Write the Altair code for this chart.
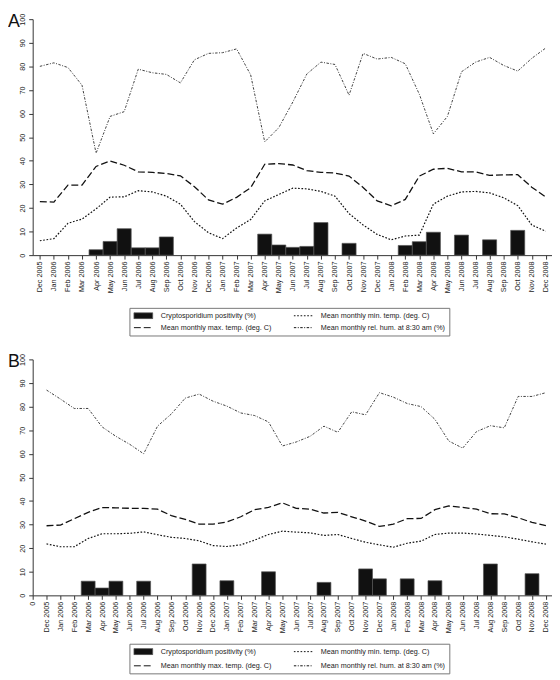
import altair as alt
import pandas as pd

months = ["Dec 2005", "Jan 2006", "Feb 2006", "Mar 2006", "Apr 2006", "May 2006",
          "Jun 2006", "Jul 2006", "Aug 2006", "Sep 2006", "Oct 2006", "Nov 2006",
          "Dec 2006", "Jan 2007", "Feb 2007", "Mar 2007", "Apr 2007", "May 2007",
          "Jun 2007", "Jul 2007", "Aug 2007", "Sep 2007", "Oct 2007", "Nov 2007",
          "Dec 2007", "Jan 2008", "Feb 2008", "Mar 2008", "Apr 2008", "May 2008",
          "Jun 2008", "Jul 2008", "Aug 2008", "Sep 2008", "Oct 2008", "Nov 2008",
          "Dec 2008"]

# Panel A
crypto_A = [None, None, None, None, 2.3, 5.8, 11.2, 3.1, 3.1, 7.7, None, None,
            None, None, None, None, 8.9, 4.3, 3.3, 3.7, 13.8, None, 5.0, None,
            None, None, 4.1, 5.7, 9.7, None, 8.5, None, 6.5, None, 10.5, None, None]
tmin_A = [6.1, 7.0, 13.5, 15.3, 19.6, 24.6, 24.7, 27.3, 26.8, 25.0, 21.6, 14.2,
          9.5, 7.0, 11.5, 15.1, 23.0, 25.7, 28.4, 28.1, 27.0, 25.0, 17.6, 12.8,
          8.8, 6.5, 8.1, 8.5, 21.6, 25.0, 26.8, 27.0, 26.4, 24.3, 21.0, 12.8, 10.1]
tmax_A = [22.7, 22.5, 29.7, 29.7, 37.6, 39.9, 38.1, 35.3, 35.1, 34.6, 33.6, 29.0,
          23.4, 21.6, 24.5, 28.6, 38.5, 38.8, 38.2, 35.8, 35.1, 34.8, 33.5, 28.7,
          23.0, 20.9, 23.6, 33.5, 36.4, 36.8, 35.3, 35.3, 33.8, 34.0, 34.1, 28.8, 24.6]
hum_A = [80.0, 81.5, 79.5, 72.0, 43.2, 58.8, 60.8, 78.8, 77.3, 76.6, 73.0, 82.8,
         85.5, 85.8, 87.4, 76.4, 48.0, 54.0, 64.9, 76.8, 81.8, 80.8, 67.8, 85.5,
         83.1, 83.8, 81.1, 68.2, 51.4, 58.8, 77.7, 81.8, 83.8, 80.4, 78.0, 83.4, 87.8]

# Panel B
crypto_B = [None, None, None, 6.0, 3.1, 6.0, None, 6.0, None, None, None, 13.3,
            None, 6.2, None, None, 10.0, None, None, None, 5.5, None, None, 11.2,
            7.0, None, 7.0, None, 6.2, None, None, None, 13.3, None, None, 9.2, None]
tmin_B = [21.8, 20.6, 20.6, 24.1, 26.1, 26.1, 26.3, 26.9, 25.7, 24.6, 24.1, 23.1,
          21.1, 20.7, 21.4, 23.4, 25.8, 27.2, 26.8, 26.5, 25.4, 25.8, 24.1, 22.5,
          21.4, 20.4, 22.1, 23.0, 25.8, 26.4, 26.4, 26.0, 25.4, 24.8, 23.8, 22.7, 21.7]
tmax_B = [29.5, 29.8, 32.5, 35.2, 37.2, 37.1, 36.9, 36.9, 36.5, 33.8, 32.2, 30.2,
          30.2, 31.1, 33.3, 36.3, 37.3, 39.2, 36.9, 36.5, 34.9, 35.2, 33.3, 31.5,
          29.2, 30.2, 32.5, 32.6, 36.3, 37.9, 37.3, 36.5, 34.6, 34.5, 32.9, 30.9, 29.6]
hum_B = [87.0, 83.2, 79.2, 79.2, 71.4, 67.4, 64.0, 60.0, 71.7, 76.9, 83.6, 85.3,
         82.3, 80.2, 77.3, 76.2, 73.5, 63.3, 65.0, 67.4, 71.7, 69.1, 77.8, 76.5,
         85.9, 84.0, 81.3, 80.0, 74.6, 65.4, 62.4, 69.4, 71.9, 71.0, 84.3, 84.3, 85.9]

# legend entries (the legend fills column by column)
series = ["Cryptosporidium positivity (%)",
          "Mean monthly max. temp. (deg. C)",
          "Mean monthly min. temp. (deg. C)",
          "Mean monthly rel. hum. at 8:30 am (%)"]

FONT = "Liberation Sans"
INK = "#111111"
AX = "#333333"
DASH_MIN = [1.7, 1.7]
DASH_MAX = [7, 3]
DASH_HUM = [2.5, 1.5, 1, 1.5]
RECT_PATH = "M-1,-0.32H1V0.32H-1Z"
LINE_PATH = "M-1,0H1"

W = 526
H = 239
LABELS_JS = "[" + ",".join("'" + m + "'" for m in months) + "]"
NB = "\u00a0" * 5


def panel(name, crypto, tmin, tmax, hum, x_lo, tick_vals, label_expr, leg_y, row_pad):
    df = pd.DataFrame({"i": list(range(len(months))), "month": months,
                       "crypto": crypto, "tmin": tmin, "tmax": tmax, "hum": hum})
    xscale = alt.Scale(domain=[x_lo, 36.44], nice=False, zero=False)
    yscale = alt.Scale(domain=[0, 100], nice=False)
    xaxis = alt.Axis(values=tick_vals, labelExpr=label_expr, title=None, labelAngle=270,
                     labelAlign="right", labelBaseline="middle", labelFlush=False,
                     labelOverlap=False, tickSize=4, labelPadding=2)
    yaxis = alt.Axis(values=list(range(0, 101, 10)), title=None, labelAngle=270,
                     labelAlign="center", labelBaseline="bottom", labelFlush=False,
                     labelOverlap=False, tickSize=4, labelPadding=2)

    base = alt.Chart(df)
    bars = base.transform_filter("isValid(datum.crypto)").transform_calculate(
        x1="datum.i - 0.5", x2="datum.i + 0.5"
    ).mark_rect(fill=INK, stroke="#555555", strokeWidth=0.7).encode(
        x=alt.X("x1:Q", scale=xscale, axis=xaxis),
        x2="x2:Q",
        y=alt.Y("crypto:Q", scale=yscale, axis=yaxis),
        y2=alt.datum(0),
    )

    def line(field, dash, sw, col):
        return base.mark_line(stroke=col, strokeDash=dash, strokeWidth=sw).encode(
            x=alt.X("i:Q", scale=xscale, axis=xaxis),
            y=alt.Y(field + ":Q", scale=yscale, axis=yaxis),
        )

    l_min = line("tmin", DASH_MIN, 1.2, INK)
    l_max = line("tmax", DASH_MAX, 1.3, INK)
    l_hum = line("hum", DASH_HUM, 0.9, "#2a2a2a")

    leg = alt.Legend(orient="none", legendX=98, legendY=leg_y, columns=2, title=None,
                     labelFont=FONT, labelFontSize=7.3, labelColor="#222222",
                     labelOffset=7.7, labelLimit=400, symbolSize=361,
                     symbolStrokeWidth=1, padding=4, rowPadding=row_pad,
                     columnPadding=21, clipHeight=7.3,
                     labelExpr="indexof(datum.label, 'hum.') >= 0 ? datum.label + '" + NB + "' : datum.label",
                     strokeColor="#777777", fillColor="white")
    leg_df = pd.DataFrame({"series": series})
    legend_layer = alt.Chart(leg_df).transform_filter("false").mark_point(
        filled=True, opacity=1
    ).encode(
        shape=alt.Shape("series:N", legend=leg, sort=series,
                        scale=alt.Scale(domain=series,
                                        range=[RECT_PATH, LINE_PATH, LINE_PATH, LINE_PATH])),
        fill=alt.Fill("series:N", legend=leg, sort=series,
                      scale=alt.Scale(domain=series,
                                      range=[INK, "transparent", "transparent", "transparent"])),
        stroke=alt.Stroke("series:N", legend=leg, sort=series,
                          scale=alt.Scale(domain=series,
                                          range=["#555555", INK, INK, INK])),
        strokeDash=alt.StrokeDash("series:N", legend=leg, sort=series,
                                  scale=alt.Scale(domain=series,
                                                  range=[[1, 0], DASH_MAX, DASH_MIN, DASH_HUM])),
    )

    tag = alt.Chart(pd.DataFrame({"tag": [name]})).mark_text(
        align="left", baseline="top", fontSize=18, font=FONT, color=INK
    ).encode(text="tag:N", x=alt.value(-25), y=alt.value(-6))

    return alt.layer(bars, l_hum, l_max, l_min, legend_layer, tag).properties(
        width=W, height=H)


panel_A = panel("A", crypto_A, tmin_A, tmax_A, hum_A, -0.51, list(range(0, 37)),
                LABELS_JS + "[datum.value]", 292.4, 3.4)
panel_B = panel("B", crypto_B, tmin_B, tmax_B, hum_B, -1.0, list(range(-1, 37)),
                "datum.value < 0 ? '0' : " + LABELS_JS + "[datum.value]", 288, 5.7)

chart = alt.vconcat(panel_A, panel_B, spacing=16.6).resolve_scale(
    x="independent", y="independent", shape="independent", fill="independent",
    stroke="independent", strokeDash="independent"
).resolve_legend(
    shape="independent", fill="independent", stroke="independent",
    strokeDash="independent"
).properties(padding=0).configure_view(
    stroke=None
).configure_axis(
    grid=False, domainColor=AX, tickColor=AX, domainWidth=1, tickWidth=1,
    labelFont=FONT, labelFontSize=7.3, labelColor="#222222"
)

chart.save("out.html", embed_options={"renderer": "svg", "actions": False})
